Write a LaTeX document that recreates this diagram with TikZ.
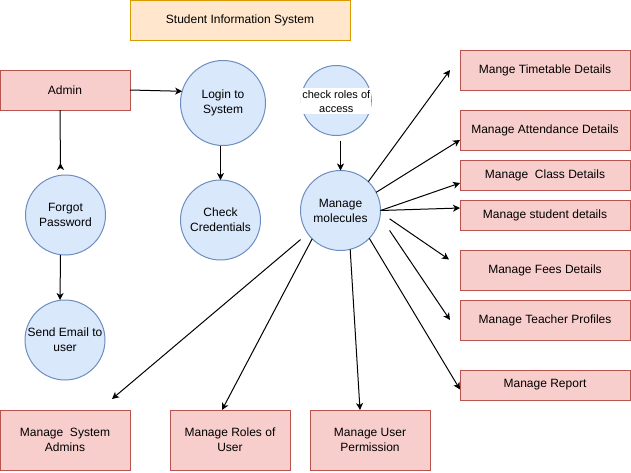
\documentclass[tikz,border=0pt]{standalone}
\usepackage{fontspec}
\setmainfont{Liberation Sans}
\usepackage{xcolor}
\usepackage{tikz}
\usetikzlibrary{shapes,arrows.meta,positioning}

\definecolor{procfill}{HTML}{DAE8FC}
\definecolor{procline}{HTML}{6C8EBF}
\definecolor{entfill}{HTML}{F8CECC}
\definecolor{entline}{HTML}{B85450}
\definecolor{titlefill}{HTML}{FFE6CC}
\definecolor{titleline}{HTML}{D79B00}

\begin{document}
\begin{tikzpicture}[
    x=1pt, y=-1pt,
    font=\fontsize{12}{15}\selectfont,
    process/.style={circle, draw=procline, fill=procfill, line width=1pt, minimum size=80pt, inner sep=0pt, outer sep=0pt, align=center},
    entity/.style={rectangle, draw=entline, fill=entfill, line width=1pt, minimum width=170pt, minimum height=40pt, inner sep=0pt, outer sep=0pt, align=center},
    flow/.style={-{Stealth[length=7pt,width=7pt,inset=2pt]}, line width=1pt},
    backflow/.style={{Stealth[length=7pt,width=7pt,inset=2pt,reversed]}-, line width=1pt}
]
    \useasboundingbox (0,0) rectangle (631,472);

    % Title
    \node[rectangle, draw=titleline, fill=titlefill, line width=1pt, minimum width=220pt, minimum height=40pt] (title) at (240,20) {Student Information System};

    % Login side
    \node[entity, minimum width=130pt] (admin) at (65,90) {Admin};
    \node[process] (forgot) at (65.5,215) {Forgot\\Password};
    \node[process] (email) at (65,340) {Send Email to\\user};
    \node[process, minimum size=85pt] (login) at (223,103) {Login to\\System};
    \node[process] (check) at (220.5,220) {Check\\Credentials};

    % Access and modules
    \node[process, minimum size=70pt] (roles) at (336.3,100.5) {};
    \node[fill=white, minimum width=70pt, minimum height=26pt, inner sep=0pt, align=center, font=\fontsize{11}{14}\selectfont] (rolestext) at (336.3,101.3) {check roles of\\access};
    \node[process] (molecules) at (340.5,210.5) {Manage\\molecules};

    % Right column
    \node[entity] (tt) at (545,70) {Mange Timetable Details};
    \node[entity] (att) at (545,130) {Manage Attendance Details};
    \node[entity, minimum height=30pt] (cls) at (545,175) {Manage\ \ Class Details};
    \node[entity, minimum height=30pt] (std) at (545,215) {Manage student details};
    \node[entity] (fee) at (545,270) {Manage Fees Details};
    \node[entity] (tch) at (545,320) {Manage Teacher Profiles};
    \node[entity, minimum height=30pt] (rep) at (545,385) {Manage Report};

    % Bottom row
    \node[entity, minimum width=130pt, minimum height=60pt] (sa) at (65,440) {Manage\ \ System\\Admins};
    \node[entity, minimum width=120pt, minimum height=60pt] (rol) at (230,440) {Manage Roles of\\User};
    \node[entity, minimum width=120pt, minimum height=60pt] (perm) at (370,440) {Manage User\\Permission};

    % Connectors
    \draw[flow] (admin.east) -- (login.164);
    \draw[backflow] ([xshift=-5pt,yshift=5pt]forgot.north) -- ([xshift=-5pt]admin.south);
    \draw[flow] ([xshift=-5pt]forgot.south) -- ([xshift=-5pt]email.north);
    \draw[flow] (login.south -| check.north) -- (check.north);
    \draw[flow] ([yshift=-5pt]molecules.north |- roles.south) -- (molecules.north);

    \draw[flow] (molecules.46) -- ([xshift=-10pt]tt.west);
    \draw[flow] (molecules.27) -- ([yshift=-10pt]att.west);
    \draw[flow] (molecules.east) -- ([yshift=-8pt]cls.west);
    \draw[flow] (molecules.east) -- ([yshift=7pt]std.west);
    \draw[flow] ([xshift=10pt]molecules.-12) -- ([shift={(-11pt,-9.5pt)}]fee.north west);
    \draw[flow] ([shift={(12pt,-5pt)}]molecules.-22) -- ([xshift=-10pt]tch.west);
    \draw[flow] (molecules.-44) -- ([yshift=-4.5pt]rep.west);
    \draw[flow] (molecules.-76) -- ([xshift=-10pt]perm.north);
    \draw[flow] (molecules.-135) -- ([xshift=-8pt]rol.north);
    \draw[flow] ([shift={(-8pt,-5pt)}]molecules.-143) -- ([shift={(-18pt,11pt)}]sa.north east);
\end{tikzpicture}
\end{document}
